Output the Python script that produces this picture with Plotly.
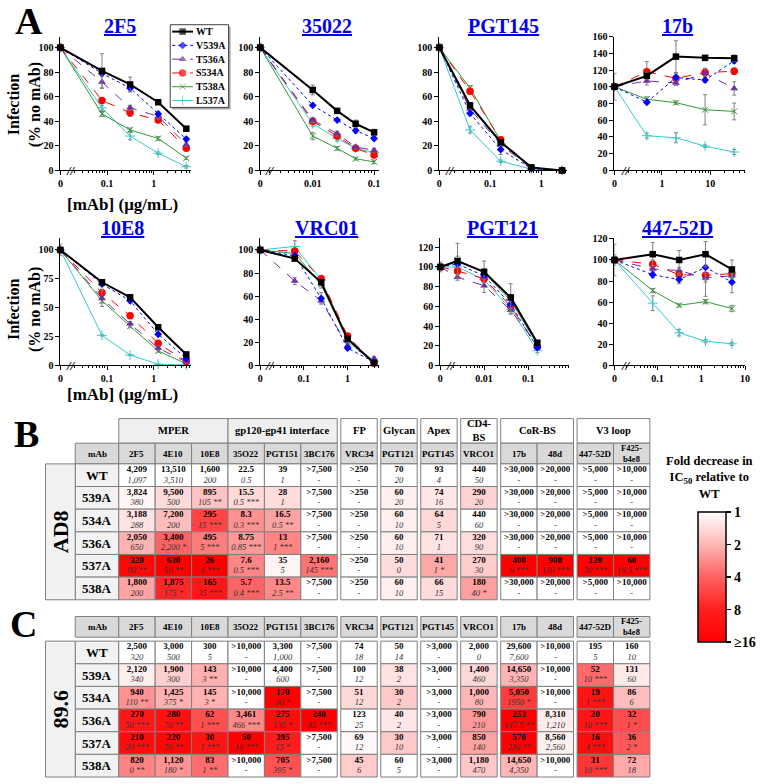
import math
import plotly.graph_objects as go

W, H = 760, 784
FONT = "Liberation Serif"

# ------------------------------------------------------------------
# Panel A data: concentration in ug/mL (0 = no-mAb point) and % infection
# ------------------------------------------------------------------
SERIES = ["WT", "V539A", "T536A", "S534A", "T538A", "L537A"]

CONC_2F5 = [0, 0.078, 0.3125, 1.25, 5]
Y_2F5 = {"WT": [100, 81, 70, 55.5, 34], "V539A": [100, 79, 67, 46, 25.5],
         "T536A": [100, 72, 51, 44, 21], "S534A": [100, 57, 47, 41, 18],
         "T538A": [100, 46, 33, 26, 10], "L537A": [100, 51, 28, 14, 3]}
E_2F5 = {"WT": [3, 14, 6, 1.5, 1.5], "V539A": [1, 2, 3, 2, 1.5], "T536A": [1, 5, 2, 2, 1.5],
         "S534A": [1, 1.5, 3, 1.5, 1.5], "T538A": [1, 2, 1.5, 1.5, 1], "L537A": [1, 2, 3, 1, 1]}

CONC_35022 = [0, 0.01, 0.025, 0.05, 0.1]
Y_35022 = {"WT": [100, 65.5, 48.5, 38, 31], "V539A": [100, 53, 41, 32.5, 26],
           "T536A": [100, 41, 30, 19, 16.5], "S534A": [100, 40, 28, 18, 12.5],
           "T538A": [100, 28, 18, 9.5, 7], "L537A": [100, 38, 26, 18, 14.5]}
E_35022 = {"WT": [3, 4, 1.5, 3, 2.5], "V539A": [1, 1, 1, 2, 1.5], "T536A": [1, 2, 2, 1.5, 1.5],
           "S534A": [1, 2, 2, 1.5, 1.5], "T538A": [1, 3, 1.5, 1, 1.5], "L537A": [1, 2, 2, 1.5, 2]}

CONC_PGT145 = [0, 0.04, 0.16, 0.64, 2.56]
Y_PGT145 = {"WT": [100, 53, 23, 2.5, 0], "V539A": [100, 46.5, 17, 1.5, 0],
            "T536A": [100, 50, 21, 1.5, 0], "S534A": [100, 64.5, 25, 2, 0],
            "T538A": [100, 67, 24, 2, 0], "L537A": [100, 33, 7.5, 1, 0]}
E_PGT145 = {"WT": [3, 2, 2, 1, 0.5], "V539A": [1, 2, 4, 0.5, 0.5], "T536A": [1, 2, 2, 0.5, 0.5],
            "S534A": [1, 2, 2, 0.5, 0.5], "T538A": [1, 2, 2, 0.5, 0.5], "L537A": [1, 2.5, 1, 0.5, 0.5]}

CONC_17B = [0, 0.488, 1.95, 7.81, 31.25]
Y_17B = {"WT": [100, 113, 136, 134.5, 134], "V539A": [100, 81.5, 111, 108, 131],
         "T536A": [100, 107, 104.5, 116, 98], "S534A": [100, 118, 110, 117, 118.5],
         "T538A": [100, 85, 81, 72.5, 70.5], "L537A": [100, 41.5, 39, 29, 22]}
E_17B = {"WT": [16, 4, 19, 3, 4], "V539A": [3, 2, 4, 3, 3], "T536A": [3, 5, 3, 6, 8],
         "S534A": [3, 12, 6, 5, 4], "T538A": [3, 3, 2, 18, 10], "L537A": [3, 3, 6, 1.5, 3]}

CONC_10E8 = [0, 0.078, 0.3125, 1.25, 5]
Y_10E8 = {"WT": [100, 72, 59, 33, 9.5], "V539A": [100, 70.5, 56, 27, 6],
          "T536A": [100, 58, 36, 15, 3], "S534A": [100, 63, 43, 19, 3.5],
          "T538A": [100, 56, 34, 12.5, 1.5], "L537A": [100, 26, 9, 1, 0.5]}
E_10E8 = {"WT": [5, 1.5, 1.5, 1, 1.5], "V539A": [1, 1.5, 1.5, 1, 1], "T536A": [1, 7, 2, 2, 1],
          "S534A": [1, 3, 2, 3, 1], "T538A": [1, 2, 1.5, 1, 0.5], "L537A": [1, 0.5, 0.5, 0.3, 0.3]}

CONC_VRC01 = [0, 0.0625, 0.25, 1, 4]
Y_VRC01 = {"WT": [100, 92.5, 72, 23, 2], "V539A": [100, 95, 58, 15, 3],
           "T536A": [100, 73, 56, 17, 6], "S534A": [100, 99, 75, 25.5, 2],
           "T538A": [100, 97, 70, 22, 3], "L537A": [100, 103, 74, 20, 4]}
E_VRC01 = {"WT": [3, 2, 2, 2, 1], "V539A": [2, 2, 5, 1.5, 1], "T536A": [2, 3, 2, 2, 1.5],
           "S534A": [2, 2, 3, 2, 1], "T538A": [2, 2, 3, 2, 1], "L537A": [2, 5, 3, 2, 1]}

CONC_PGT121 = [0, 0.0025, 0.01, 0.04, 0.16]
Y_PGT121 = {"WT": [100, 106, 95, 69, 23], "V539A": [100, 103, 91, 62, 18],
            "T536A": [100, 89.5, 81, 56, 21], "S534A": [100, 96, 88, 60, 19],
            "T538A": [100, 107, 94, 66, 21], "L537A": [100, 100, 87, 57, 15]}
E_PGT121 = {"WT": [5, 18, 11, 14, 2], "V539A": [3, 3, 3, 4, 2], "T536A": [3, 3, 7, 4, 2],
            "S534A": [3, 3, 3, 4, 2], "T538A": [3, 4, 4, 6, 2], "L537A": [3, 3, 3, 4, 2]}

CONC_447 = [0, 0.078, 0.3125, 1.25, 5]
Y_447 = {"WT": [100, 105.5, 100, 105.5, 91], "V539A": [100, 86, 81.5, 93, 79],
         "T536A": [100, 91.5, 90, 83, 85], "S534A": [100, 96, 86, 85.5, 87],
         "T538A": [100, 71, 57, 60.5, 54], "L537A": [100, 59, 31, 23, 20.5]}
E_447 = {"WT": [15, 11, 9, 12, 9], "V539A": [5, 3, 4, 12, 10], "T536A": [3, 3, 3, 4, 3],
         "S534A": [3, 4, 5, 20, 4], "T538A": [3, 2, 1.5, 2, 3], "L537A": [3, 7, 3, 1.5, 1.5]}

# ------------------------------------------------------------------
# Panels B / C data: IC50 (bold) and second value (italic) per mAb
# ------------------------------------------------------------------
GROUPS = ["MPER", "gp120-gp41 interface", "FP", "Glycan", "Apex", "CD4-<br>BS", "CoR-BS", "V3 loop"]
GROUP_NCOL = [3, 3, 1, 1, 1, 1, 2, 2]
MABS = ["2F5", "4E10", "10E8", "35O22", "PGT151", "3BC176", "VRC34", "PGT121", "PGT145",
        "VRCO1", "17b", "48d", "447-52D", "F425-<br>b4e8"]
MUTANTS = ["WT", "539A", "534A", "536A", "537A", "538A"]

AD8_IC50 = [
    ["4,209", "13,510", "1,600", "22.5", "39", ">7,500", ">250", "70", "93", "440", ">30,000", ">20,000", ">5,000", ">10,000"],
    ["3,824", "9,500", "895", "15.5", "28", ">7,500", ">250", "60", "74", "290", ">30,000", ">20,000", ">5,000", ">10,000"],
    ["3,188", "7,200", "295", "8.3", "16.5", ">7,500", ">250", "60", "64", "440", ">30,000", ">20,000", ">5,000", ">10,000"],
    ["2,050", "3,400", "495", "8.75", "13", ">7,500", ">250", "60", "71", "320", ">30,000", ">20,000", ">5,000", ">10,000"],
    ["320", "630", "26", "7.6", "35", "2,160", ">250", "50", "41", "270", "400", "900", "120", "60"],
    ["1,800", "1,875", "165", "5.7", "13.5", ">7,500", ">250", "60", "66", "180", ">30,000", ">20,000", ">5,000", ">10,000"],
]
AD8_SUB = [
    ["1,097", "3,510", "200", "0.5", "1", "-", "-", "20", "4", "50", "-", "-", "-", "-"],
    ["380", "500", "105 **", "0.5 ***", "1", "-", "-", "20", "16", "20", "-", "-", "-", "-"],
    ["288", "200", "15 ***", "0.3 ***", "0.5 **", "-", "-", "10", "5", "60", "-", "-", "-", "-"],
    ["650", "2,200 *", "5 ***", "0.85 ***", "1 ***", "-", "-", "10", "1", "90", "-", "-", "-", "-"],
    ["90 **", "50 **", "6 ***", "0.5 ***", "5", "145 ***", "-", "0", "1 *", "30", "0 ***", "110 ***", "30 ***", "19.5 ***"],
    ["200", "175 *", "35 ***", "0.4 ***", "2.5 **", "-", "-", "10", "15", "40 *", "-", "-", "-", "-"],
]
V896_IC50 = [
    ["2,500", "3,000", "300", ">10,000", "3,300", ">7,500", "74", "50", ">3,000", "2,000", "29,600", ">10,000", "195", "160"],
    ["2,120", "1,900", "143", ">10,000", "4,400", ">7,500", "100", "38", ">3,000", "1,400", "14,650", ">10,000", "52", "131"],
    ["940", "1,425", "145", ">10,000", "170", ">7,500", "51", "30", ">3,000", "1,000", "5,050", ">10,000", "19", "86"],
    ["270", "280", "62", "3,461", "275", "240", "123", "40", ">3,000", "790", "253", "8,310", "20", "32"],
    ["210", "220", "30", "50", "395", ">7,500", "69", "30", ">3,000", "850", "570", "8,560", "16", "36"],
    ["820", "1,120", "83", ">10,000", "705", ">7,500", "45", "60", ">3,000", "1,180", "14,650", ">10,000", "31", "72"],
]
V896_SUB = [
    ["320", "500", "5", "-", "1,000", "-", "18", "14", "-", "0", "7,600", "-", "5", "10"],
    ["340", "300", "3 **", "-", "600", "-", "12", "2", "-", "460", "3,350", "-", "10 ***", "60"],
    ["110 **", "375 *", "3 *", "-", "30 *", "-", "12", "2", "-", "80", "1950 *", "-", "1 ***", "6"],
    ["50 ***", "70 **", "1 ***", "466 ***", "135 *", "45 ***", "25", "2", "-", "210", "147.5 **", "1,210", "10 ***", "1 *"],
    ["20 ***", "70 **", "1 ***", "10 ***", "15 *", "-", "12", "10", "-", "140", "230 **", "2,560", "4 ***", "2 *"],
    ["0 **", "180 *", "1 **", "-", "395 *", "-", "6", "5", "-", "470", "4,350", "-", "10 ***", "18"],
]

FOLD_TICKS = ["1", "2", "4", "8", "\u226516"]

# ------------------------------------------------------------------
# Styles
# ------------------------------------------------------------------
STYLE = {
    "WT": dict(color="#000000", dash="solid", width=2, symbol="square", size=6.5),
    "V539A": dict(color="#0000FF", dash="dot", width=1, symbol="diamond", size=6),
    "T536A": dict(color="#7030A0", dash="dash", width=1, symbol="triangle-up", size=7),
    "S534A": dict(color="#FF0000", dash="dash", width=1, symbol="circle", size=7.5),
    "T538A": dict(color="#339933", dash="solid", width=1, symbol="x-thin-open", size=6),
    "L537A": dict(color="#33CCCC", dash="solid", width=1, symbol="cross-thin-open", size=7),
}

CHARTS = [
    dict(t="2F5", c=CONC_2F5, y=Y_2F5, e=E_2F5, xd=(58, 190), yd=(31, 167), xr=(-2.0, 0.8), yr=(0, 109), dt=20, xt=[0.1, 1], tp=(118, 20)),
    dict(t="35022", c=CONC_35022, y=Y_35022, e=E_35022, xd=(260, 380), yd=(31, 167), xr=(-2.855, -0.92), yr=(0, 109), dt=20, xt=[0.01, 0.1], tp=(327, 20)),
    dict(t="PGT145", c=CONC_PGT145, y=Y_PGT145, e=E_PGT145, xd=(441, 570), yd=(31, 167), xr=(-2.0, 0.505), yr=(0, 109), dt=20, xt=[0.1, 1], tp=(506, 20)),
    dict(t="17b", c=CONC_17B, y=Y_17B, e=E_17B, xd=(618, 750), yd=(31, 167), xr=(-0.98, 1.72), yr=(0, 160), dt=20, xt=[1, 10], tp=(682, 20)),
    dict(t="10E8", c=CONC_10E8, y=Y_10E8, e=E_10E8, xd=(58, 190), yd=(236, 365), xr=(-2.0, 0.8), yr=(0, 110), dt=25, xt=[0.1, 1], tp=(121, 225)),
    dict(t="VRC01", c=CONC_VRC01, y=Y_VRC01, e=E_VRC01, xd=(260, 380), yd=(236, 365), xr=(-1.99, 0.715), yr=(0, 110), dt=20, xt=[0.1, 1], tp=(327, 225)),
    dict(t="PGT121", c=CONC_PGT121, y=Y_PGT121, e=E_PGT121, xd=(442, 572), yd=(236, 365), xr=(-2.99, -0.08), yr=(0, 129), dt=20, xt=[0.01, 0.1], tp=(505, 225)),
    dict(t="447-52D", c=CONC_447, y=Y_447, e=E_447, xd=(618, 750), yd=(236, 365), xr=(-1.98, 1.0), yr=(0, 120.5), dt=20, xt=[0.1, 1, 10], tp=(682, 225)),
]


def xp(px):
    return px / W


def yp(py):
    return 1 - py / H


def sfx(n):
    return "" if n == 1 else str(n)


def bfont(size, color="black", weight="bold", style="normal"):
    return dict(family=FONT, size=size, color=color, weight=weight, style=style)


fig = go.Figure()
layout = {}
annotations = []

for i, ch in enumerate(CHARTS):
    n = sfx(i + 1)
    x0 = 10 ** ch["xr"][0]
    xs = [x0 if c == 0 else c for c in ch["c"]]
    for s in reversed(SERIES):
        st = STYLE[s]
        fig.add_trace(go.Scatter(
            x=xs, y=ch["y"][s], mode="lines+markers", name=s,
            xaxis=f"x{n}", yaxis=f"y{n}", showlegend=False,
            line=dict(color=st["color"], dash=st["dash"], width=st["width"]),
            marker=dict(symbol=st["symbol"], size=st["size"], color=st["color"],
                        line=dict(color=st["color"], width=1 if "open" in st["symbol"] else 0)),
            error_y=dict(type="data", array=ch["e"][s], color="#808080", thickness=1, width=2),
            cliponaxis=False, hoverinfo="skip"))
    lo, hi = ch["xr"]
    minor_vals = []
    for d in range(math.floor(lo), math.ceil(hi) + 1):
        for k in range(2, 10):
            v = k * 10 ** d
            if lo < math.log10(v) < hi:
                minor_vals.append(v)
    layout[f"xaxis{n}"] = dict(
        domain=[xp(ch["xd"][0]), xp(ch["xd"][1])], type="log", range=list(ch["xr"]),
        anchor=f"y{n}", tickvals=[x0] + ch["xt"], ticktext=["0"] + [f"{v:g}" for v in ch["xt"]],
        ticks="outside", ticklen=4, tickwidth=1, tickcolor="black", showline=True,
        linecolor="black", linewidth=1, showgrid=False, zeroline=False, tickfont=bfont(10),
        minor=dict(tickmode="array", tickvals=minor_vals, ticks="outside", ticklen=2,
                   tickwidth=1, tickcolor="black", showgrid=False),
        fixedrange=True)
    layout[f"yaxis{n}"] = dict(
        domain=[yp(ch["yd"][1]), yp(ch["yd"][0])], range=list(ch["yr"]), anchor=f"x{n}",
        tickmode="linear", tick0=0, dtick=ch["dt"], ticks="outside", ticklen=4, tickwidth=1,
        tickcolor="black", showline=True, linecolor="black", linewidth=1, showgrid=False,
        zeroline=False, tickfont=bfont(10), fixedrange=True)
    annotations.append(dict(xref="paper", yref="paper", x=xp(ch["tp"][0]), y=yp(ch["tp"][1]),
                            text=f"<b><u>{ch['t']}</u></b>", showarrow=False,
                            font=bfont(20, "#0000EE"), xanchor="center", yanchor="middle"))
    annotations.append(dict(xref=f"x{n} domain", yref=f"y{n} domain", x=0.085, y=0,
                            text="<b><i>//</i></b>", showarrow=False, font=bfont(13),
                            xanchor="center", yanchor="middle"))

# axis titles for panel A
for cy in (100, 308):
    annotations.append(dict(xref="paper", yref="paper", x=xp(22), y=yp(cy), textangle=-90,
                            text="<b>Infection<br>(% no mAb)</b>", showarrow=False,
                            font=bfont(16), xanchor="center", yanchor="middle"))
for cy in (202, 395):
    annotations.append(dict(xref="paper", yref="paper", x=xp(121), y=yp(cy),
                            text="<b>[mAb] (\u03bcg/mL)</b>", showarrow=False,
                            font=bfont(17), xanchor="center", yanchor="middle"))

# panel letters
for letter, lx, ly in (("A", 26, 15), ("B", 24, 435), ("C", 21, 628)):
    annotations.append(dict(xref="paper", yref="paper", x=xp(lx), y=yp(ly), text=f"<b>{letter}</b>",
                            showarrow=False, font=bfont(38), xanchor="center", yanchor="middle"))

# ------------------------------------------------------------------
# Legend box of panel A (drawn in the full-figure pixel axis x9/y9)
# ------------------------------------------------------------------
LEG_X0, LEG_X1, LEG_Y0, LEG_Y1 = 169, 228, 19, 103
LEG_ROW = (LEG_Y1 - LEG_Y0) / len(SERIES)
fig.add_trace(go.Bar(x=[(LEG_X0 + LEG_X1) / 2 + 2], y=[LEG_Y1 - LEG_Y0], base=[LEG_Y0 + 2], width=[LEG_X1 - LEG_X0],
                     marker=dict(color="#A6A6A6", line=dict(width=0)), xaxis="x9", yaxis="y9",
                     hoverinfo="skip", showlegend=False))
fig.add_trace(go.Bar(x=[(LEG_X0 + LEG_X1) / 2], y=[LEG_Y1 - LEG_Y0], base=[LEG_Y0], width=[LEG_X1 - LEG_X0],
                     marker=dict(color="white", line=dict(color="#404040", width=1)), xaxis="x9", yaxis="y9",
                     hoverinfo="skip", showlegend=False))
for k, s in enumerate(SERIES):
    st = STYLE[s]
    yc = LEG_Y0 + LEG_ROW * (k + 0.5)
    fig.add_trace(go.Scatter(
        x=[LEG_X0 + 2, LEG_X0 + 12.5, LEG_X0 + 23], y=[yc] * 3, mode="lines+markers", name=s,
        xaxis="x9", yaxis="y9", showlegend=False, hoverinfo="skip", cliponaxis=False,
        line=dict(color=st["color"], dash=st["dash"], width=st["width"]),
        marker=dict(symbol=st["symbol"], size=[0, st["size"], 0], color=st["color"],
                    line=dict(color=st["color"], width=1 if "open" in st["symbol"] else 0))))
    annotations.append(dict(xref="x9", yref="y9", x=LEG_X0 + 24, y=yc, text=f"<b>{s}</b>",
                            showarrow=False, font=bfont(10), xanchor="left", yanchor="middle"))

# ------------------------------------------------------------------
# Tables (drawn in a full-figure pixel axis x9/y9)
# ------------------------------------------------------------------
TX0, COL_W, GAP, ROW_H = 117, 36.8, 3.6, 23
NAME_X0, NAME_W = 73, 44
STRAIN_X0, STRAIN_W = 43, 30
GROUP_FILL = ["#EFEFEF", "#EFEFEF", "#FFFFFF", "#FFFFFF", "#FFFFFF", "#FFFFFF", "#FFFFFF", "#FFFFFF"]

col_left = []
group_span = []
xcur = TX0
for gi, nc in enumerate(GROUP_NCOL):
    if gi >= 2:
        xcur += GAP
    g0 = xcur
    for _ in range(nc):
        col_left.append(xcur)
        xcur += COL_W
    group_span.append((g0, xcur))

CS = [[0, "#FF0000"], [0.25, "#FF1E1E"], [0.5, "#FF6262"], [0.75, "#FFB6B6"], [1, "#FFFFFF"]]


def num(s):
    return float(s.replace(",", "").replace(">", ""))


def draw_table(ic50, sub, strain, mh_top, d_top, gh_top=None, showscale=False):
    hx, hw, hb, hh, hc = [], [], [], [], []
    if gh_top is not None:
        for gi, (g0, g1) in enumerate(group_span):
            hx.append((g0 + g1) / 2); hw.append(g1 - g0); hb.append(gh_top); hh.append(mh_top - gh_top)
            hc.append(GROUP_FILL[gi])
    mh_h = 21
    hx.append(NAME_X0 + NAME_W / 2); hw.append(NAME_W); hb.append(mh_top); hh.append(mh_h); hc.append("#D9D9D9")
    for cl in col_left:
        hx.append(cl + COL_W / 2); hw.append(COL_W); hb.append(mh_top); hh.append(mh_h); hc.append("#D9D9D9")
    for r in range(len(MUTANTS)):
        hx.append(NAME_X0 + NAME_W / 2); hw.append(NAME_W); hb.append(d_top + r * ROW_H); hh.append(ROW_H)
        hc.append("#F2F2F2")
    hx.append(STRAIN_X0 + STRAIN_W / 2); hw.append(STRAIN_W); hb.append(d_top)
    hh.append(ROW_H * len(MUTANTS)); hc.append("#F2F2F2")
    fig.add_trace(go.Bar(x=hx, y=hh, base=hb, width=hw, marker=dict(color=hc, line=dict(color="#7F7F7F", width=1)),
                         xaxis="x9", yaxis="y9", hoverinfo="skip", showlegend=False))
    cx, cb, cv = [], [], []
    for r in range(len(MUTANTS)):
        for c in range(len(MABS)):
            fold = num(ic50[0][c]) / num(ic50[r][c])
            fold = min(max(fold, 1.0), 16.0)
            cx.append(col_left[c] + COL_W / 2)
            cb.append(d_top + r * ROW_H)
            cv.append(-math.log2(fold))
    fig.add_trace(go.Bar(
        x=cx, y=[ROW_H] * len(cx), base=cb, width=COL_W, xaxis="x9", yaxis="y9",
        hoverinfo="skip", showlegend=False,
        marker=dict(color=cv, colorscale=CS, cmin=-4, cmax=0, showscale=showscale,
                    line=dict(color="#7F7F7F", width=1),
                    colorbar=dict(x=xp(702), xanchor="left", xpad=0, y=yp(580), yanchor="middle",
                                  ypad=0, len=130, lenmode="pixels", thickness=28,
                                  thicknessmode="pixels", outlinewidth=1.5, outlinecolor="black",
                                  tickvals=[0, -1, -2, -3, -4], ticktext=FOLD_TICKS,
                                  ticks="outside", ticklen=5, tickwidth=1.5, tickcolor="black",
                                  tickfont=bfont(14)))))
    tx, ty1, ty2, t1, t2 = [], [], [], [], []
    for r in range(len(MUTANTS)):
        for c in range(len(MABS)):
            tx.append(col_left[c] + COL_W / 2)
            ty1.append(d_top + r * ROW_H + 6)
            ty2.append(d_top + r * ROW_H + 16.8)
            t1.append(f"<b>{ic50[r][c]}</b>")
            t2.append(f"<i>{sub[r][c]}</i>")
    fig.add_trace(go.Scatter(x=tx, y=ty1, text=t1, mode="text", textfont=dict(family=FONT, size=9, color="black"),
                             xaxis="x9", yaxis="y9", hoverinfo="skip", showlegend=False, cliponaxis=False))
    fig.add_trace(go.Scatter(x=tx, y=ty2, text=t2, mode="text", textfont=dict(family=FONT, size=8.5, color="#333333"),
                             xaxis="x9", yaxis="y9", hoverinfo="skip", showlegend=False, cliponaxis=False))
    if gh_top is not None:
        for gi, (g0, g1) in enumerate(group_span):
            annotations.append(dict(xref="x9", yref="y9", x=(g0 + g1) / 2, y=(gh_top + mh_top) / 2,
                                    text=f"<b>{GROUPS[gi]}</b>", showarrow=False, font=bfont(10.5),
                                    xanchor="center", yanchor="middle"))
    annotations.append(dict(xref="x9", yref="y9", x=NAME_X0 + NAME_W / 2, y=mh_top + mh_h / 2,
                            text="<b>mAb</b>", showarrow=False, font=bfont(9), xanchor="center", yanchor="middle"))
    for c, m in enumerate(MABS):
        annotations.append(dict(xref="x9", yref="y9", x=col_left[c] + COL_W / 2, y=mh_top + mh_h / 2,
                                text=f"<b>{m}</b>", showarrow=False, font=bfont(9 if "<br>" not in m else 8.5),
                                xanchor="center", yanchor="middle"))
    for r, mu in enumerate(MUTANTS):
        annotations.append(dict(xref="x9", yref="y9", x=NAME_X0 + NAME_W / 2, y=d_top + r * ROW_H + ROW_H / 2,
                                text=f"<b>{mu}</b>", showarrow=False, font=bfont(13),
                                xanchor="center", yanchor="middle"))
    annotations.append(dict(xref="x9", yref="y9", x=STRAIN_X0 + STRAIN_W / 2,
                            y=d_top + ROW_H * len(MUTANTS) / 2, text=f"<b>{strain}</b>", textangle=-90,
                            showarrow=False, font=bfont(22), xanchor="center", yanchor="middle"))


draw_table(AD8_IC50, AD8_SUB, "AD8", mh_top=444, d_top=465, gh_top=419, showscale=True)
draw_table(V896_IC50, V896_SUB, "89.6", mh_top=620, d_top=645)

annotations.append(dict(xref="paper", yref="paper", x=xp(714), y=yp(479),
                        text="<b>Fold decrease in<br>IC<sub>50</sub> relative to<br>WT</b>",
                        showarrow=False, font=bfont(12.5), xanchor="center", yanchor="middle"))

layout["xaxis9"] = dict(domain=[0, 1], range=[0, W], visible=False, fixedrange=True, anchor="y9")
layout["yaxis9"] = dict(domain=[0, 1], range=[H, 0], visible=False, fixedrange=True, anchor="x9")

fig.update_layout(
    width=W, height=H, margin=dict(l=0, r=0, t=0, b=0),
    paper_bgcolor="white", plot_bgcolor="rgba(0,0,0,0)", barmode="overlay",
    font=dict(family=FONT, color="black"),
    showlegend=False,
    annotations=annotations,
    **layout,
)

fig.write_html("out.html", config={"displayModeBar": False, "staticPlot": True},
               post_script="document.body.style.margin='0px';document.body.style.overflow='hidden';")
